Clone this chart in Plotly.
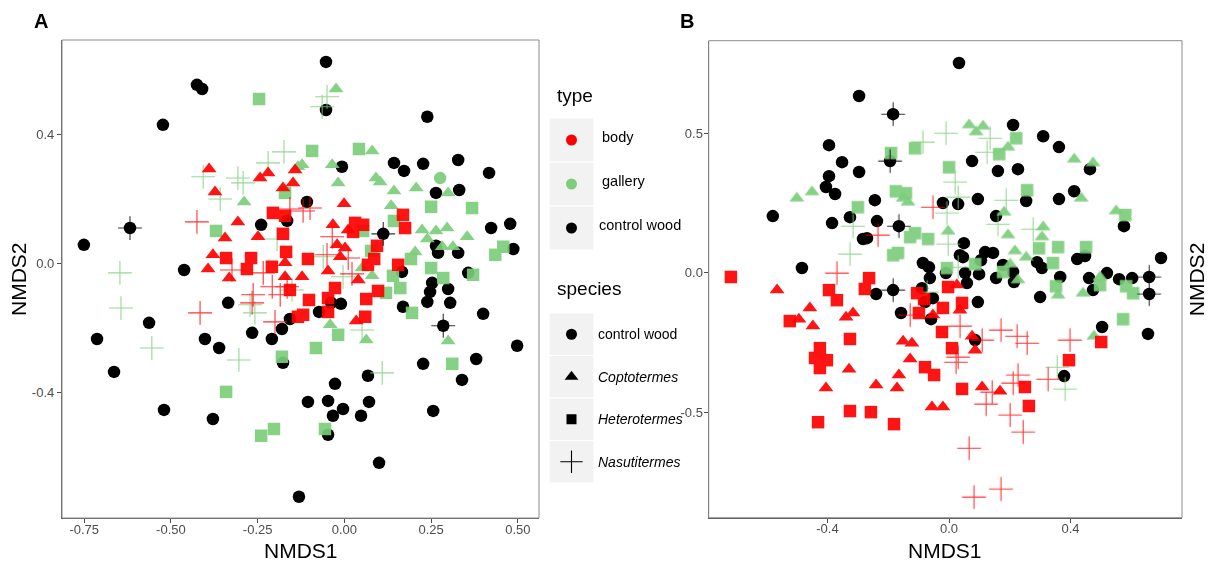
import plotly.graph_objects as go

W, H = 1210, 561
FONT = "Liberation Sans"
RED = "#FF0000"
GREEN = "#7CCD7C"
BLACK = "#000000"

# ---------------- Panel A data ----------------
a_ctrl_x = [-0.425, -0.410, -0.523, -0.618, -0.751, -0.462, -0.240, -0.165, -0.053, -0.053, 0.239, -0.007,
            0.143, 0.172, 0.227, 0.328, 0.417, 0.264, 0.331, -0.108, 0.112, 0.423, 0.478, 0.487, 0.264, 0.270,
            0.328, 0.357, 0.166, -0.713, -0.664, -0.563, -0.520, -0.402, -0.361, -0.379, -0.335, -0.266, -0.209,
            -0.180, -0.157, -0.177, -0.131, 0.253, 0.247, 0.239, 0.299, 0.305, 0.285, 0.400, 0.498, 0.380, 0.339,
            0.227, 0.256, 0.169, -0.010, -0.038, -0.073, 0.068, -0.027, -0.105, -0.047, -0.004, -0.033, 0.071,
            0.048, -0.047, 0.100]
a_ctrl_y = [0.553, 0.540, 0.429, 0.109, 0.057, -0.021, 0.119, 0.131, 0.624, 0.475, 0.454, 0.299,
            0.311, 0.286, 0.308, 0.320, 0.280, 0.218, 0.227, 0.190, 0.091, 0.109, 0.122, 0.044, 0.054, 0.032,
            0.032, -0.030, -0.027, -0.235, -0.337, -0.185, -0.455, -0.235, -0.263, -0.483, -0.123, -0.216, -0.235,
            -0.204, -0.173, -0.309, -0.724, -0.061, -0.089, -0.120, -0.080, -0.123, -0.194, -0.157, -0.256, -0.297,
            -0.362, -0.312, -0.458, -0.135, -0.126, -0.123, -0.151, -0.349, -0.374, -0.430, -0.427, -0.452, -0.473,
            -0.430, -0.473, -0.532, -0.619]
a_ctrl_plus_x = [-0.618, 0.112, 0.285]
a_ctrl_plus_y = [0.109, 0.091, -0.194]

a_gal_circle_x = [0.276]
a_gal_circle_y = [0.264]
a_gal_square_x = [-0.246, -0.171, -0.370, -0.093, 0.042, 0.250, 0.368, 0.143, 0.054, 0.077, 0.192, 0.250,
                  0.435, 0.458, 0.371, 0.285, 0.140, 0.161, 0.120, 0.195, -0.018, -0.082, 0.311, -0.056,
                  -0.341, -0.240, -0.203, -0.180]
a_gal_square_y = [0.509, 0.218, 0.100, 0.348, 0.354, 0.175, 0.171, 0.131, 0.100, 0.038, 0.013, -0.015,
                  0.026, 0.051, -0.036, -0.046, -0.039, -0.077, -0.092, -0.154, -0.222, -0.263, -0.312, -0.514,
                  -0.399, -0.535, -0.514, -0.290]
a_gal_tri_x = [-0.024, 0.080, -0.122, -0.035, -0.018, 0.091, 0.103, 0.143, 0.207, 0.299, 0.135, 0.224, 0.264,
               0.296, 0.239, 0.354, 0.204, 0.282, 0.313, -0.289, -0.134, 0.051, 0.080, -0.041, 0.063, 0.299]
a_gal_tri_y = [0.540, 0.348, 0.305, 0.305, 0.249, 0.264, 0.252, 0.224, 0.233, 0.218, 0.178, 0.103, 0.100,
               0.109, 0.075, 0.082, 0.035, 0.051, 0.051, 0.190, 0.299, -0.015, -0.039, -0.191, -0.238, -0.241]
a_gal_plus_x = [-0.174, -0.220, -0.407, -0.307, -0.292, -0.358, -0.194, -0.647, -0.050, -0.064, -0.644, -0.555,
                -0.304, -0.272, -0.258, -0.151, -0.061, -0.004, 0.109, 0.051]
a_gal_plus_y = [0.345, 0.311, 0.268, 0.264, 0.249, 0.199, 0.075, -0.030, 0.516, 0.485, -0.139, -0.263,
                -0.300, -0.129, -0.154, -0.083, 0.020, -0.042, -0.340, -0.207]

a_body_tri_x = [-0.390, -0.373, -0.243, -0.220, -0.142, -0.177, -0.148, -0.307, -0.344, -0.249, -0.379, -0.393,
                -0.171, -0.332, -0.122, -0.047, -0.033, -0.001, -0.021, 0.002, -0.012, 0.040, 0.011, 0.034, -0.171]
a_body_tri_y = [0.292, 0.221, 0.264, 0.280, 0.289, 0.233, 0.249, 0.128, 0.078, 0.082, 0.026, -0.018,
                0.001, -0.046, -0.042, -0.024, 0.119, 0.184, 0.057, 0.047, 0.020, -0.052, 0.103, -0.179, -0.042]
a_body_square_x = [-0.206, -0.171, -0.177, -0.168, -0.341, -0.269, -0.281, -0.209, -0.105, 0.031, 0.054, 0.025,
                   0.094, 0.068, 0.086, 0.155, 0.169, 0.175, -0.027, -0.102, -0.047, 0.063, 0.097, -0.119, 0.060,
                   -0.157, -0.134, -0.047]
a_body_square_y = [0.156, 0.147, 0.091, 0.035, 0.016, 0.016, -0.018, -0.011, 0.013, 0.125, 0.119, 0.097,
                   0.054, -0.005, 0.013, -0.005, 0.150, 0.109, -0.077, -0.114, -0.108, -0.111, -0.086, -0.160, -0.166,
                   -0.083, -0.166, -0.151]
a_body_plus_x = [-0.425, -0.157, -0.099, -0.119, -0.324, -0.234, -0.208, -0.263, -0.266, -0.416, -0.185, -0.050,
                 -0.035, 0.011, 0.022, -0.165, -0.200]
a_body_plus_y = [0.128, 0.168, 0.171, 0.162, -0.021, -0.030, -0.073, -0.098, -0.123, -0.154, -0.098, 0.026,
                 0.082, 0.016, -0.033, -0.073, -0.182]

# ---------------- Panel B data ----------------
b_ctrl_x = [-0.296, -0.184, -0.395, -0.352, -0.296, -0.395, -0.405, -0.375, -0.244, -0.580, -0.385, -0.326, -0.237,
            -0.165, -0.283, -0.270, -0.194, -0.484, -0.086, -0.066, 0.033, 0.211, 0.310, 0.362, 0.076, 0.161, 0.227,
            0.464, 0.412, 0.362, 0.254, 0.095, -0.020, 0.030, 0.155, 0.576, 0.698, 0.422, 0.448, 0.290, 0.306,
            0.366, 0.461, 0.520, 0.560, 0.603, 0.659, 0.659, 0.474, 0.300, 0.049, 0.036, 0.105, 0.119, 0.145,
            -0.063, -0.010, 0.053, 0.099, 0.155, 0.214, 0.178, 0.059, 0.095, 0.046, 0.211, -0.089, -0.240, -0.184,
            -0.158, -0.079, -0.053, -0.059, 0.504, 0.655, 0.379, 0.086]
b_ctrl_y = [0.633, 0.568, 0.457, 0.396, 0.361, 0.346, 0.307, 0.282, 0.260, 0.203, 0.178, 0.199, 0.185,
            0.167, 0.121, 0.124, 0.400, 0.017, 0.035, 0.020, 0.751, 0.529, 0.489, 0.450, 0.400, 0.364, 0.371,
            0.371, 0.292, 0.264, 0.257, 0.264, 0.250, 0.246, 0.203, 0.167, 0.053, 0.049, 0.060, 0.038, 0.017,
            -0.015, -0.019, -0.001, -0.023, -0.019, -0.015, -0.076, -0.062, -0.087, 0.106, 0.063, 0.045, 0.074, 0.071,
            -0.019, -0.001, -0.001, -0.005, -0.019, -0.033, 0.028, -0.037, -0.105, 0.056, 0.003, -0.055, -0.076, -0.062,
            -0.144, -0.105, -0.091, -0.166, -0.194, -0.219, -0.370, -0.241]
b_ctrl_plus_x = [-0.184, -0.165, -0.194, 0.659, 0.659, -0.184]
b_ctrl_plus_y = [0.568, 0.167, 0.400, -0.015, -0.076, -0.062]

b_gal_square_x = [-0.191, -0.112, -0.300, -0.175, -0.142, -0.128, -0.112, -0.069, -0.184, -0.168, 0.221, 0.165,
                  0.000, 0.257, 0.580, 0.296, 0.359, 0.451, 0.342, 0.178, 0.497, 0.352, 0.606, 0.583, 0.086,
                  -0.007, 0.573]
b_gal_square_y = [0.429, 0.446, 0.235, 0.292, 0.285, 0.128, 0.142, 0.121, 0.063, 0.071, 0.482, 0.425,
                  0.378, 0.296, 0.207, 0.088, 0.092, 0.092, 0.035, 0.003, -0.044, -0.048, -0.073, -0.048, 0.031,
                  0.017, -0.166]
b_gal_tri_x = [-0.501, -0.451, -0.135, -0.151, 0.066, 0.112, 0.089, 0.194, 0.412, 0.474, 0.435, 0.550, 0.181,
               0.310, 0.306, 0.194, -0.003, 0.217, 0.254, 0.201, 0.497, 0.441, 0.359, 0.227, 0.477]
b_gal_tri_y = [0.267, 0.289, 0.253, 0.267, 0.529, 0.525, 0.504, 0.450, 0.407, 0.393, 0.267, 0.221, 0.217,
               0.164, 0.128, 0.135, 0.149, 0.078, 0.056, 0.031, -0.015, -0.073, -0.080, -0.026, -0.227]
b_gal_plus_x = [-0.086, -0.316, -0.326, -0.010, 0.135, 0.125, 0.020, 0.030, 0.188, -0.007, 0.161, 0.277,
                -0.003, 0.030, -0.072, 0.356, 0.382]
b_gal_plus_y = [0.468, 0.167, 0.067, 0.500, 0.482, 0.432, 0.325, 0.271, 0.260, 0.214, 0.174, 0.156,
                0.103, 0.020, -0.069, -0.338, -0.416]

b_body_square_x = [-0.718, -0.263, -0.277, -0.395, -0.369, -0.524, -0.326, -0.425, -0.441, -0.402, -0.425,
                   -0.105, -0.082, -0.099, -0.023, -0.079, -0.049, -0.326, -0.257, -0.431, -0.181, -0.003,
                   -0.020, 0.043, 0.010, 0.043, 0.250, 0.263, 0.395, 0.501]
b_body_square_y = [-0.015, -0.019, -0.058, -0.062, -0.098, -0.173, -0.237, -0.270, -0.305, -0.313, -0.341,
                   -0.073, -0.094, -0.144, -0.212, -0.338, -0.366, -0.495, -0.499, -0.535, -0.542, -0.051,
                   -0.126, -0.108, -0.270, -0.416, -0.409, -0.477, -0.313, -0.248]
b_body_tri_x = [-0.566, -0.458, -0.494, -0.448, -0.339, -0.316, -0.151, -0.122, -0.128, -0.329, -0.165, -0.240,
                -0.405, -0.171, -0.056, -0.053, 0.026, 0.036, 0.076, 0.086, 0.109, 0.168, -0.020]
b_body_tri_y = [-0.062, -0.126, -0.166, -0.191, -0.159, -0.144, -0.245, -0.252, -0.309, -0.345, -0.366, -0.402,
                -0.413, -0.413, -0.481, -0.151, -0.044, -0.134, -0.227, -0.277, -0.409, -0.424, -0.481]
b_body_plus_x = [-0.053, -0.234, -0.369, -0.128, 0.036, 0.171, 0.224, 0.257, 0.398, 0.109, 0.030, 0.023,
                 0.227, 0.211, 0.326, 0.142, 0.122, 0.201, 0.244, 0.066, 0.082, 0.171]
b_body_plus_y = [0.235, 0.135, -0.001, -0.151, -0.191, -0.205, -0.227, -0.252, -0.241, -0.241, -0.302, -0.320,
                 -0.366, -0.395, -0.381, -0.427, -0.470, -0.509, -0.570, -0.628, -0.803, -0.774]

# ---------------- Axes / legend text ----------------
a_xticks = [-0.75, -0.50, -0.25, 0.00, 0.25, 0.50]
a_xticklabels = ["-0.75", "-0.50", "-0.25", "0.00", "0.25", "0.50"]
a_yticks = [-0.4, 0.0, 0.4]
a_yticklabels = ["-0.4", "0.0", "0.4"]
b_xticks = [-0.8, -0.4, 0.0, 0.4]
b_xticklabels = ["-0.8", "-0.4", "0.0", "0.4"]
b_yticks = [-0.5, 0.0, 0.5]
b_yticklabels = ["-0.5", "0.0", "0.5"]

type_labels = ["body", "gallery", "control wood"]
type_colors = [RED, GREEN, BLACK]
species_labels = ["control wood", "<i>Coptotermes</i>", "<i>Heterotermes</i>", "<i>Nasutitermes</i>"]
species_symbols = ["circle", "triangle-up", "square", "cross-thin"]

fig = go.Figure()


def pts(xs, ys, color, symbol, xa, ya, opacity=0.92):
    if symbol == "cross-thin":
        marker = dict(symbol="cross-thin", size=17, color=color, line=dict(color=color, width=1.1))
        opacity = 0.8
    else:
        size = {"circle": 12.5, "triangle-up": 13, "square": 12.5}[symbol]
        marker = dict(symbol=symbol, size=size, color=color, line=dict(width=0))
    fig.add_trace(go.Scatter(x=xs, y=ys, mode="markers", marker=marker, opacity=opacity,
                             xaxis=xa, yaxis=ya, showlegend=False, hoverinfo="skip", cliponaxis=True))


# Panel A
pts(a_ctrl_x, a_ctrl_y, BLACK, "circle", "x", "y", 1.0)
pts(a_gal_circle_x, a_gal_circle_y, GREEN, "circle", "x", "y")
pts(a_gal_square_x, a_gal_square_y, GREEN, "square", "x", "y")
pts(a_gal_tri_x, a_gal_tri_y, GREEN, "triangle-up", "x", "y")
pts(a_gal_plus_x, a_gal_plus_y, GREEN, "cross-thin", "x", "y")
pts(a_body_square_x, a_body_square_y, RED, "square", "x", "y")
pts(a_body_tri_x, a_body_tri_y, RED, "triangle-up", "x", "y")
pts(a_body_plus_x, a_body_plus_y, RED, "cross-thin", "x", "y")
pts(a_ctrl_plus_x, a_ctrl_plus_y, BLACK, "cross-thin", "x", "y")

# Panel B
pts(b_ctrl_x, b_ctrl_y, BLACK, "circle", "x2", "y2", 1.0)
pts(b_gal_square_x, b_gal_square_y, GREEN, "square", "x2", "y2")
pts(b_gal_tri_x, b_gal_tri_y, GREEN, "triangle-up", "x2", "y2")
pts(b_gal_plus_x, b_gal_plus_y, GREEN, "cross-thin", "x2", "y2")
pts(b_body_square_x, b_body_square_y, RED, "square", "x2", "y2")
pts(b_body_tri_x, b_body_tri_y, RED, "triangle-up", "x2", "y2")
pts(b_body_plus_x, b_body_plus_y, RED, "cross-thin", "x2", "y2")
pts(b_ctrl_plus_x, b_ctrl_plus_y, BLACK, "cross-thin", "x2", "y2")

# ---------------- Manual legend (pixel-space overlay axis) ----------------
KEY_X0, KEY_X1 = 549, 594
KEY_CX = (KEY_X0 + KEY_X1) / 2
TYPE_TOP, TYPE_H = 118, 44
SPEC_TOP, SPEC_H = 313, 42.5
LABEL_X = 597
LEG_FONT = 14

shapes = []
annotations = []


def key_box(top, h):
    shapes.append(dict(type="rect", xref="x3", yref="y3", x0=KEY_X0, x1=KEY_X1, y0=top, y1=top + h,
                       fillcolor="#F2F2F2", line=dict(color="white", width=1.2), layer="below"))


tcx, tcy = [], []
for i, lab in enumerate(type_labels):
    top = TYPE_TOP + i * TYPE_H
    key_box(top, TYPE_H)
    tcx.append(KEY_CX)
    tcy.append(top + TYPE_H / 2)
    annotations.append(dict(xref="x3", yref="y3", x=LABEL_X + (3 if i < 2 else 0), y=top + TYPE_H / 2 - 3,
                            text=lab, showarrow=False, xanchor="left", yanchor="middle",
                            font=dict(family=FONT, size=LEG_FONT + 0.5, color="black")))
fig.add_trace(go.Scatter(x=tcx, y=tcy, mode="markers", xaxis="x3", yaxis="y3", showlegend=False,
                         hoverinfo="skip", marker=dict(symbol="circle", size=11, color=type_colors)))

for i, lab in enumerate(species_labels):
    top = SPEC_TOP + i * SPEC_H
    key_box(top, SPEC_H)
    sym = species_symbols[i]
    if sym == "cross-thin":
        mk = dict(symbol=sym, size=16, color="black", line=dict(color="black", width=1.1))
    else:
        mk = dict(symbol=sym, size={"circle": 11, "triangle-up": 12, "square": 10}[sym], color="black")
    fig.add_trace(go.Scatter(x=[KEY_CX], y=[top + SPEC_H / 2], mode="markers", xaxis="x3", yaxis="y3",
                             showlegend=False, hoverinfo="skip", marker=mk))
    annotations.append(dict(xref="x3", yref="y3", x=LABEL_X - 1, y=top + SPEC_H / 2,
                            text=lab, showarrow=False, xanchor="left", yanchor="middle",
                            font=dict(family=FONT, size=LEG_FONT, color="black")))

for txt, yy in [("type", 95), ("species", 288)]:
    annotations.append(dict(xref="x3", yref="y3", x=555, y=yy, text=txt, showarrow=False,
                            xanchor="left", yanchor="middle", font=dict(family=FONT, size=19, color="black")))

# Panel borders
A_BOX = (62, 539, 40, 518)
B_BOX = (708.7, 1182, 40.7, 517.7)
for (x0, x1, y0, y1) in (A_BOX, B_BOX):
    shapes.append(dict(type="rect", xref="x3", yref="y3", x0=x0, x1=x1, y0=y0, y1=y1,
                       line=dict(color="#8C8C8C", width=1), fillcolor="rgba(0,0,0,0)", layer="above"))

# Panel tags and axis titles
for txt, x, y in [("A", 41, 21), ("B", 687, 21)]:
    annotations.append(dict(xref="x3", yref="y3", x=x, y=y, text="<b>%s</b>" % txt, showarrow=False,
                            xanchor="center", yanchor="middle", font=dict(family=FONT, size=20, color="black")))
for txt, x, y, ang in [("NMDS1", (A_BOX[0] + A_BOX[1]) / 2, 550, 0), ("NMDS1", (B_BOX[0] + B_BOX[1]) / 2, 550, 0),
                       ("NMDS2", 18, (A_BOX[2] + A_BOX[3]) / 2, -90), ("NMDS2", 1196, (B_BOX[2] + B_BOX[3]) / 2, -90)]:
    annotations.append(dict(xref="x3", yref="y3", x=x, y=y, text=txt, showarrow=False, textangle=ang,
                            xanchor="center", yanchor="middle", font=dict(family=FONT, size=21, color="black")))


def dom_x(a, b):
    return [a / W, b / W]


def dom_y(top, bot):
    return [1 - bot / H, 1 - top / H]


tick_font = dict(family=FONT, size=13, color="#4D4D4D")
axis_common = dict(showgrid=False, zeroline=False, ticks="outside", ticklen=4, tickwidth=1, tickcolor="#4D4D4D",
                   showline=True, linecolor="#5A5A5A", linewidth=1.3, tickfont=tick_font, automargin=False,
                   fixedrange=True)

fig.update_layout(
    width=W, height=H, margin=dict(l=0, r=0, t=0, b=0),
    paper_bgcolor="white", plot_bgcolor="rgba(0,0,0,0)", showlegend=False,
    xaxis=dict(domain=dom_x(A_BOX[0], A_BOX[1]), range=[-0.814, 0.561], anchor="y", ticklabelstandoff=-5,
               tickvals=a_xticks, ticktext=a_xticklabels, **axis_common),
    yaxis=dict(domain=dom_y(A_BOX[2], A_BOX[3]), range=[-0.790, 0.692], anchor="x",
               tickvals=a_yticks, ticktext=a_yticklabels, **axis_common),
    xaxis2=dict(domain=dom_x(B_BOX[0], B_BOX[1]), range=[-0.791, 0.767], anchor="y2", ticklabelstandoff=-5,
                tickvals=b_xticks, ticktext=b_xticklabels, **axis_common),
    yaxis2=dict(domain=dom_y(B_BOX[2], B_BOX[3]), range=[-0.877, 0.831], anchor="x2", ticklabelstandoff=-2,
                tickvals=b_yticks, ticktext=b_yticklabels, **axis_common),
    xaxis3=dict(domain=[0, 1], range=[0, W], anchor="y3", visible=False, fixedrange=True),
    yaxis3=dict(domain=[0, 1], range=[H, 0], anchor="x3", visible=False, fixedrange=True),
    shapes=shapes, annotations=annotations,
)

fig.write_html("out.html")
